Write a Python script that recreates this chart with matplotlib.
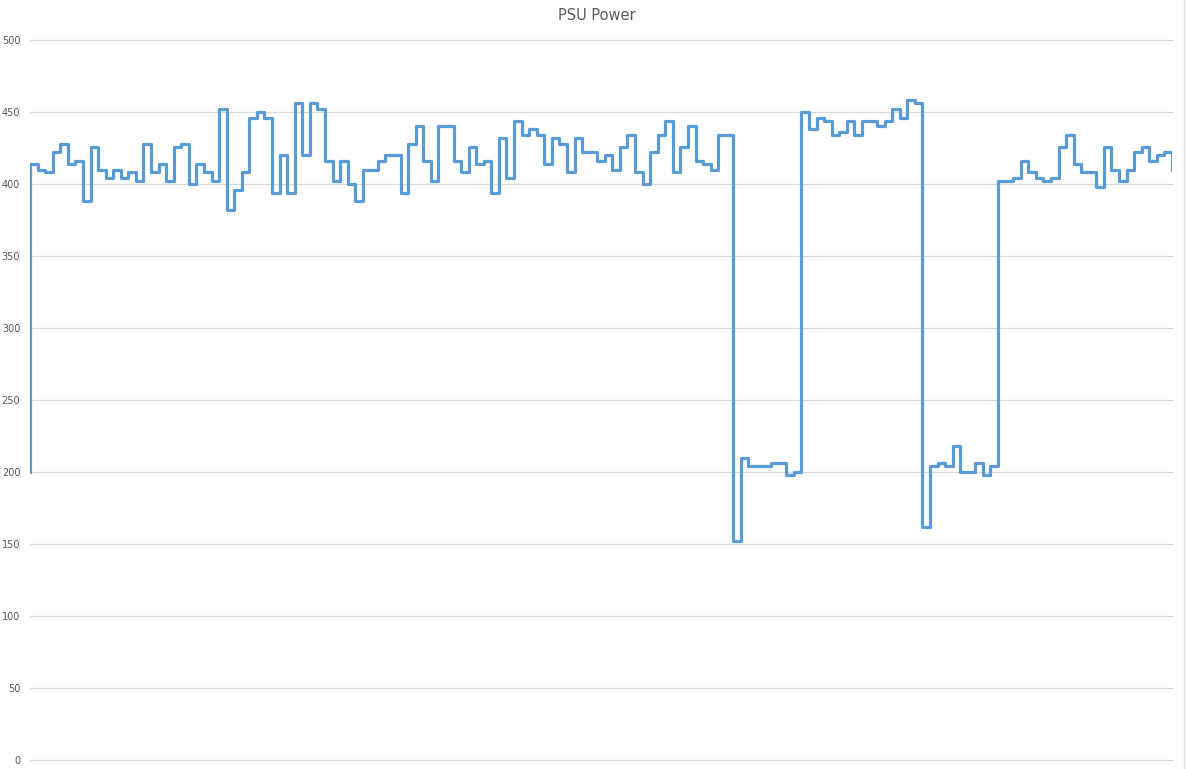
import numpy as np
import matplotlib.pyplot as plt
from matplotlib.lines import Line2D

# PSU power readings (W), one value per sample step
start_value = 200
power = [
    414, 410, 408, 422, 428, 414, 416, 388, 426, 410,
    404, 410, 404, 408, 402, 428, 408, 414, 402, 426,
    428, 400, 414, 408, 402, 452, 382, 396, 408, 446,
    450, 446, 394, 420, 394, 456, 420, 456, 452, 416,
    402, 416, 400, 388, 410, 410, 416, 420, 420, 394,
    428, 440, 416, 402, 440, 440, 416, 408, 426, 414,
    416, 394, 432, 404, 444, 434, 438, 434, 414, 432,
    428, 408, 432, 422, 422, 416, 420, 410, 426, 434,
    408, 400, 422, 434, 444, 408, 426, 440, 416, 414,
    410, 434, 434, 152, 210, 204, 204, 204, 206, 206,
    198, 200, 450, 438, 446, 444, 434, 436, 444, 434,
    444, 444, 440, 444, 452, 446, 458, 456, 162, 204,
    206, 204, 218, 200, 200, 206, 198, 204, 402, 402,
    404, 416, 408, 404, 402, 404, 426, 434, 414, 408,
    408, 398, 426, 410, 402, 410, 422, 426, 416, 420,
    422,
]
end_value = 410

n = len(power)
x = np.r_[0, np.arange(n + 1), n]
y = np.r_[start_value, power, power[-1], end_value]

fig = plt.figure(figsize=(11.87, 7.69), dpi=100)
ax = fig.add_axes([30 / 1187, 1 - 760 / 769, (1172 - 30) / 1187, 720 / 769])

ax.plot(x, y, drawstyle='steps-post', color='#5B9BD5', linewidth=2.3)

ax.set_xlim(0, n)
ax.set_ylim(0, 500)
ax.set_yticks(np.arange(0, 501, 50))
ax.set_xticks([])
ax.grid(axis='y', color='#d9d9d9', linewidth=0.9)
for gl in ax.get_ygridlines():
    gl.set_clip_on(False)
ax.set_axisbelow(True)
for s in ax.spines.values():
    s.set_visible(False)
ax.tick_params(axis='y', length=0, pad=7, labelsize=7, labelcolor='#595959')

fig.text(597 / 1187, 1 - 15 / 769, 'PSU Power', ha='center', va='center',
         fontsize=10.5, color='#595959')
fig.add_artist(Line2D([1184 / 1187, 1184 / 1187], [0, 1], color='#d9d9d9',
                      linewidth=0.9, transform=fig.transFigure))

fig.savefig('out.png', dpi=100)
